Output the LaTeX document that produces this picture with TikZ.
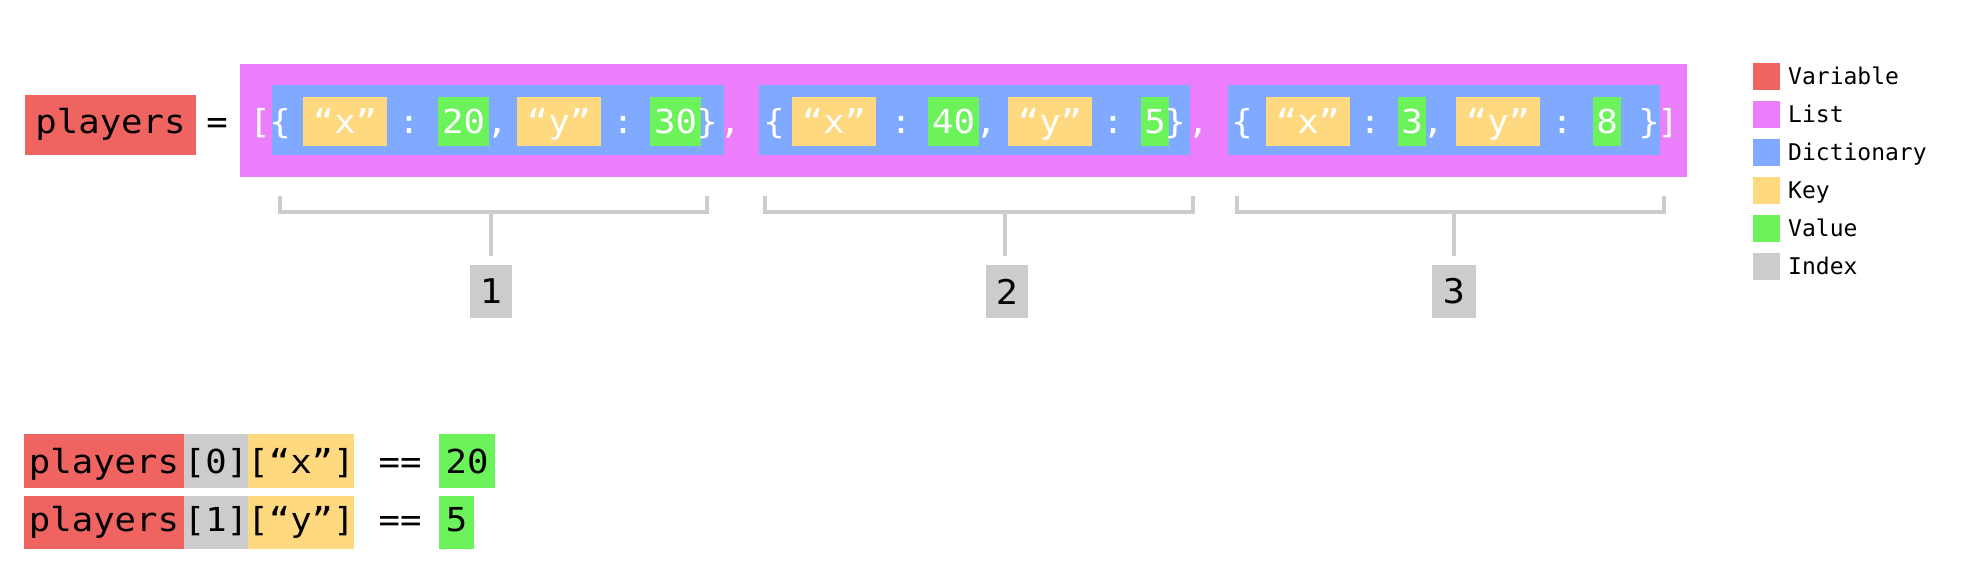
\documentclass[tikz,border=0pt]{standalone}
\usepackage{fontspec}
\newfontfamily\codefont{DejaVu Sans Mono}[FakeStretch=1.08]
\newfontfamily\legfont{DejaVu Sans Mono}
\definecolor{varc}{HTML}{EF6461}
\definecolor{listc}{HTML}{EB7EFB}
\definecolor{dictc}{HTML}{80AAFF}
\definecolor{keyc}{HTML}{FFD980}
\definecolor{valc}{HTML}{6CF25A}
\definecolor{idxc}{HTML}{CCCCCC}
\tikzset{
  bx/.style={inner sep=0pt, outer sep=0pt, anchor=north west, draw=none},
  wt/.style={text=white, font=\codefont\fontsize{33}{38}\selectfont, anchor=base, inner sep=0pt},
  bk/.style={text=black, font=\codefont\fontsize{33}{38}\selectfont, anchor=base, inner sep=0pt},
  ix/.style={text=black, font=\codefont\fontsize{34}{38}\selectfont, anchor=center, inner sep=0pt},
  lg/.style={text=black, font=\legfont\fontsize{23}{27}\selectfont, anchor=base west, inner sep=0pt},
  brk/.style={draw=idxc, line width=4pt},
  stem/.style={draw=idxc, line width=3.5pt},
}
\newcommand\mybox[6]{\node[bx,fill=#2,minimum width=#5pt,minimum height=#6pt] (#1) at (#3,#4) {};}
\begin{document}
\begin{tikzpicture}[x=1pt,y=-1pt]
\useasboundingbox[fill=white] (0,0) rectangle (1963,577);
% ---------- top line ----------
\mybox{pl}{varc}{25}{95}{171}{60}
\node[bk] (plt) at (110.5,134) {players};
\node[bk] (eq) at (217,134) {=};
\mybox{lst}{listc}{240}{64}{1447}{113}
\mybox{d1}{dictc}{272}{85}{452}{70}
\mybox{d2}{dictc}{759}{85}{431}{70}
\mybox{d3}{dictc}{1228}{85}{432}{70}
\mybox{k1x}{keyc}{303}{97}{84}{49}
\mybox{v1x}{valc}{438}{97}{51}{49}
\mybox{k1y}{keyc}{517}{97}{84}{49}
\mybox{v1y}{valc}{650}{97}{51}{49}
\mybox{k2x}{keyc}{792}{97}{84}{49}
\mybox{v2x}{valc}{928}{97}{51}{49}
\mybox{k2y}{keyc}{1008}{97}{84}{49}
\mybox{v2y}{valc}{1141}{97}{28}{49}
\mybox{k3x}{keyc}{1266}{97}{84}{49}
\mybox{v3x}{valc}{1398}{97}{28}{49}
\mybox{k3y}{keyc}{1456}{97}{84}{49}
\mybox{v3y}{valc}{1593}{97}{28}{49}
% white text
\node[wt] (lb) at (260,134) {[};
\node[wt] (o1) at (280,134) {\{};
\node[wt] (t1x) at (345,134) {“x”};
\node[wt] (c1a) at (409,134) {:};
\node[wt] (n1x) at (463.5,134) {20};
\node[wt] (m1a) at (497,134) {,};
\node[wt] (t1y) at (559,134) {“y”};
\node[wt] (c1b) at (623,134) {:};
\node[wt] (n1y) at (675.5,134) {30};
\node[wt] (e1) at (707,134) {\}};
\node[wt] (m1) at (730,134) {,};
\node[wt] (o2) at (774,134) {\{};
\node[wt] (t2x) at (834,134) {“x”};
\node[wt] (c2a) at (901,134) {:};
\node[wt] (n2x) at (953.5,134) {40};
\node[wt] (m2a) at (986,134) {,};
\node[wt] (t2y) at (1050,134) {“y”};
\node[wt] (c2b) at (1113,134) {:};
\node[wt] (n2y) at (1155,134) {5};
\node[wt] (e2) at (1175,134) {\}};
\node[wt] (m2) at (1198,134) {,};
\node[wt] (o3) at (1242,134) {\{};
\node[wt] (t3x) at (1308,134) {“x”};
\node[wt] (c3a) at (1370,134) {:};
\node[wt] (n3x) at (1412,134) {3};
\node[wt] (m3a) at (1433,134) {,};
\node[wt] (t3y) at (1498,134) {“y”};
\node[wt] (c3b) at (1562,134) {:};
\node[wt] (n3y) at (1607,134) {8};
\node[wt] (e3) at (1649,134) {\}};
\node[wt] (rb) at (1668,134) {]};
% ---------- brackets and indices ----------
\draw[brk] (280,196) -- (280,212) -- (707,212) -- (707,196);
\draw[brk] (765,196) -- (765,212) -- (1193,212) -- (1193,196);
\draw[brk] (1237,196) -- (1237,212) -- (1664,212) -- (1664,196);
\coordinate (s1) at (491,212); \coordinate (s1e) at (491,256);
\coordinate (s2) at (1005,212); \coordinate (s2e) at (1005,256);
\coordinate (s3) at (1454,212); \coordinate (s3e) at (1454,256);
\draw[stem] (s1) -- (s1e);
\draw[stem] (s2) -- (s2e);
\draw[stem] (s3) -- (s3e);
\mybox{i1}{idxc}{470}{265}{42}{53}
\mybox{i2}{idxc}{986}{265}{42}{53}
\mybox{i3}{idxc}{1432}{265}{44}{53}
\node[ix] (i1t) at (i1.center) {1};
\node[ix] (i2t) at (i2.center) {2};
\node[ix] (i3t) at (i3.center) {3};
% ---------- legend ----------
\mybox{lv}{varc}{1753}{63}{27}{27}
\mybox{ll}{listc}{1753}{101}{27}{27}
\mybox{ld}{dictc}{1753}{139}{27}{27}
\mybox{lk}{keyc}{1753}{177}{27}{27}
\mybox{lval}{valc}{1753}{215}{27}{27}
\mybox{li}{idxc}{1753}{253}{27}{27}
\node[lg] (lvt) at (1788,85) {Variable};
\node[lg] (llt) at (1788,123) {List};
\node[lg] (ldt) at (1788,161) {Dictionary};
\node[lg] (lkt) at (1788,199) {Key};
\node[lg] (lvalt) at (1788,237) {Value};
\node[lg] (lit) at (1788,275) {Index};
% ---------- bottom lines ----------
\mybox{b1v}{varc}{24}{434}{160}{54}
\mybox{b1i}{idxc}{184}{434}{64}{54}
\mybox{b1k}{keyc}{248}{434}{106}{54}
\mybox{b1n}{valc}{439}{434}{56}{54}
\node[bk] (b1vt) at (104,473) {players};
\node[bk] (b1it) at (216,473) {[0]};
\node[bk] (b1kt) at (301,473) {[“x”]};
\node[bk] (b1e) at (400,473) {==};
\node[bk] (b1nt) at (467,473) {20};
\mybox{b2v}{varc}{24}{496}{160}{53}
\mybox{b2i}{idxc}{184}{496}{64}{53}
\mybox{b2k}{keyc}{248}{496}{106}{53}
\mybox{b2n}{valc}{439}{496}{35}{53}
\node[bk] (b2vt) at (104,531) {players};
\node[bk] (b2it) at (216,531) {[1]};
\node[bk] (b2kt) at (301,531) {[“y”]};
\node[bk] (b2e) at (400,531) {==};
\node[bk] (b2nt) at (456.5,531) {5};
\end{tikzpicture}
\end{document}
